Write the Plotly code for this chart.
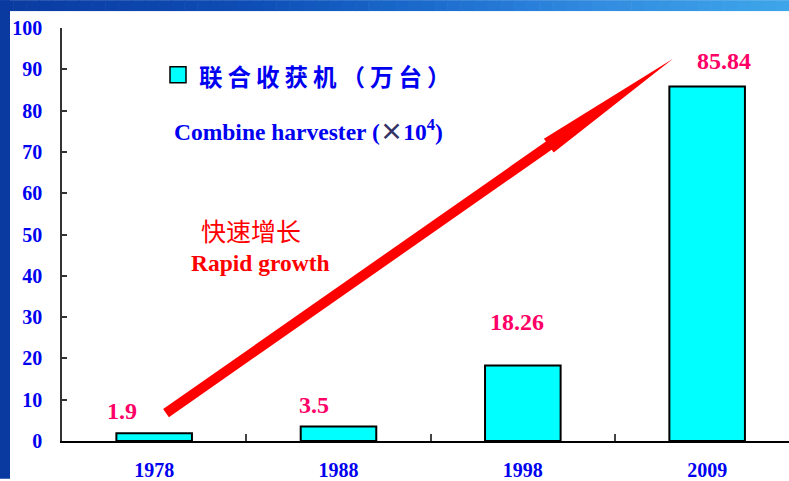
import plotly.graph_objects as go

# ---------------- data ----------------
years = ["1978", "1988", "1998", "2009"]
harvesters = [1.9, 3.5, 18.26, 85.84]          # 联合收获机 (万台)
value_labels = ["1.9", "3.5", "18.26", "85.84"]
y_ticks = [0, 10, 20, 30, 40, 50, 60, 70, 80, 90, 100]

# ---------------- geometry helpers (pixel -> paper) ----------------
W, H = 789, 481
L, R, T, B = 62, 789, 28, 443


def px(x):
    return (x - L) / (R - L)


def py(y):
    return (B - y) / (B - T)


SERIF = "Liberation Serif, Times New Roman, serif"
CJK = "Noto Sans CJK SC, sans-serif"
BLUE = "#0000F0"
PINK = "#FF0066"

fig = go.Figure()
fig.add_trace(go.Bar(
    x=years, y=harvesters, width=0.41,
    marker=dict(color="#00FFFF", line=dict(color="#000000", width=2)),
    showlegend=False, hoverinfo="x+y",
))

shapes = []
# slide background strips (top gradient, left edge)
stops = [(0, (10, 58, 160)), (250, (14, 78, 182)), (420, (26, 106, 204)),
         (600, (50, 140, 224)), (789, (62, 166, 234))]


def col_at(x):
    for (x0, c0), (x1, c1) in zip(stops[:-1], stops[1:]):
        if x0 <= x <= x1:
            t = (x - x0) / (x1 - x0)
            return "rgb(%d,%d,%d)" % tuple(round(a + (b - a) * t) for a, b in zip(c0, c1))
    return "rgb(%d,%d,%d)" % stops[-1][1]


nseg = 60
for i in range(nseg):
    x0 = W * i / nseg
    x1 = W * (i + 1) / nseg + 0.6
    shapes.append(dict(type="rect", xref="paper", yref="paper", layer="below",
                       x0=px(x0), x1=px(x1), y0=py(0), y1=py(11),
                       fillcolor=col_at((x0 + x1) / 2), line=dict(width=0)))
shapes.append(dict(type="rect", xref="paper", yref="paper", layer="below",
                   x0=px(0), x1=px(10), y0=py(0), y1=py(H),
                   fillcolor="rgb(10,58,160)", line=dict(width=0)))

# legend swatch
shapes.append(dict(type="rect", xref="paper", yref="paper",
                   x0=px(170), x1=px(186), y0=py(83), y1=py(67),
                   fillcolor="#00FFFF", line=dict(color="#000000", width=1.5)))

# growth arrow (block arrow, pixel geometry)
sx, sy = 166, 415
tx, ty = 673, 59
dx, dy = tx - sx, ty - sy
ln = (dx * dx + dy * dy) ** 0.5
ux, uy = dx / ln, dy / ln
nx, ny = -uy, ux
hb = 0.755  # head base fraction
bx, by = sx + dx * hb, sy + dy * hb
hw, sw = 8.5, 5.0
pts = [
    (sx + nx * sw, sy + ny * sw),
    (bx + nx * sw, by + ny * sw),
    (bx + nx * hw, by + ny * hw),
    (tx, ty),
    (bx - nx * hw, by - ny * hw),
    (bx - nx * sw, by - ny * sw),
    (sx - nx * sw, sy - ny * sw),
]
path = "M " + " L ".join("%.5f,%.5f" % (px(a), py(b)) for a, b in pts) + " Z"
shapes.append(dict(type="path", xref="paper", yref="paper", path=path,
                   fillcolor="#FF0000", line=dict(width=0)))

annotations = []
# value labels (x given as category index)
offsets = [(-32, 22), (-25, 22), (-6, 44), (17, 25)]
for i, (v, lab, (ox, oy)) in enumerate(zip(harvesters, value_labels, offsets)):
    annotations.append(dict(x=i, y=v, xref="x", yref="y", text=lab, showarrow=False,
                            xshift=ox, yshift=oy, xanchor="center", yanchor="middle",
                            font=dict(family=SERIF, size=24, color=PINK, weight="bold")))

annotations += [
    dict(x=px(197), y=py(76), xref="paper", yref="paper", xanchor="left", yanchor="middle",
         showarrow=False,
         text='<span style="letter-spacing:5px">联合收获机（万台）</span>',
         font=dict(family=CJK, size=23.5, color=BLUE, weight="bold")),
    dict(x=px(172), y=py(130), xref="paper", yref="paper", xanchor="left", yanchor="middle",
         showarrow=False,
         text='Combine harvester (<span style="color:#333366;font-family:Noto Sans CJK SC">×</span>10<sup>4</sup>)',
         font=dict(family=SERIF, size=23.5, color=BLUE, weight="bold")),
    dict(x=px(199), y=py(231), xref="paper", yref="paper", xanchor="left", yanchor="middle",
         showarrow=False, text="快速增长",
         font=dict(family=CJK, size=25, color="#FF0000")),
    dict(x=px(189), y=py(264), xref="paper", yref="paper", xanchor="left", yanchor="middle",
         showarrow=False, text="Rapid growth",
         font=dict(family=SERIF, size=23.5, color="#FF0000", weight="bold")),
]

fig.update_layout(
    width=W, height=H,
    margin=dict(l=L, r=W - R, t=T, b=H - B, pad=0),
    paper_bgcolor="#FFFFFF", plot_bgcolor="#FFFFFF",
    shapes=shapes, annotations=annotations,
    showlegend=False,
    xaxis=dict(type="category", range=[-0.5, 3.444], showgrid=False, zeroline=False,
               showline=True, linecolor="#000000", linewidth=1.5,
               ticks="inside", tickson="boundaries", ticklen=7, tickcolor="#444444",
               tickwidth=1.5, ticklabelstandoff=10,
               tickfont=dict(family=SERIF, size=20, color=BLUE, weight="bold")),
    yaxis=dict(range=[0, 100], tickvals=y_ticks, showgrid=False, zeroline=False,
               showline=True, linecolor="#333333", linewidth=1.5,
               ticks="inside", ticklen=5, tickcolor="#333333", tickwidth=1.5,
               ticklabelstandoff=14,
               tickfont=dict(family=SERIF, size=20, color=BLUE, weight="bold")),
)

fig.write_html("out.html", config={"displayModeBar": False},
               post_script="document.body.style.margin='0';document.body.style.overflow='hidden';")
